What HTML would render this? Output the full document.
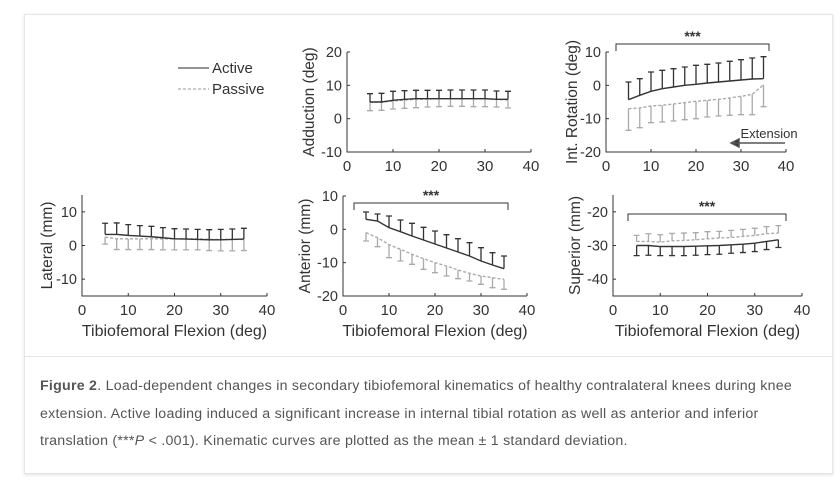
<!DOCTYPE html>
<html><head><meta charset="utf-8">
<style>
body{margin:0;width:840px;height:480px;background:#fff;overflow:hidden;font-family:"Liberation Sans",sans-serif}
#card{position:absolute;left:24px;top:14px;width:807px;height:458px;border:1px solid #e6e6e6;box-shadow:0 1px 3px rgba(0,0,0,0.12);background:#fff}
#divider{position:absolute;left:24px;top:356px;width:808px;height:1px;background:#e6e6e6}
#caption{position:absolute;left:40px;top:373px;width:790px;font-size:14.2px;line-height:27.5px;color:#555;letter-spacing:0.25px;white-space:nowrap}
svg{position:absolute;left:0;top:0}
</style></head><body>
<div id="card"></div>
<div id="divider"></div>
<svg id="chart" width="840" height="356"></svg>
<div id="caption"><b>Figure 2</b>. Load-dependent changes in secondary tibiofemoral kinematics of healthy contralateral knees during knee<br>extension. Active loading induced a significant increase in internal tibial rotation as well as anterior and inferior<br>translation (***<i>P</i> &lt; .001). Kinematic curves are plotted as the mean ± 1 standard deviation.</div>
<script>
const flexion=[5,7.5,10,12.5,15,17.5,20,22.5,25,27.5,30,32.5,35];
const xTicks=[0,10,20,30,40];
const addActive=[5,5,5.5,5.8,6,6,6,6,6,6,6,5.8,5.8];
const addActiveSD=[2.5,2.6,2.7,2.6,2.5,2.5,2.5,2.6,2.6,2.6,2.6,2.5,2.4];
const addPassive=[5,5,5.3,5.6,5.8,5.9,6,6,6,6,6,5.8,5.6];
const addPassiveSD=[2.6,2.5,2.4,2.5,2.5,2.4,2.4,2.3,2.3,2.4,2.4,2.3,2.4];
const rotActive=[-4.3,-3,-1.8,-1,-0.5,0,0.3,0.7,1,1.3,1.6,1.9,2];
const rotActiveSD=[5.3,5,5.8,5.5,5.5,5.5,5.7,5.6,5.7,5.9,6.1,6.3,6.6];
const rotPassive=[-7,-6.8,-6.2,-6,-5.6,-5.2,-4.8,-4.5,-4.2,-3.8,-3.3,-2.7,0.2];
const rotPassiveSD=[6.5,5.9,5,5,5.1,5.1,5.2,5,5,5.2,5.5,6.1,6.6];
const latActive=[3.3,3.3,3,2.8,2.6,2.3,2,1.9,1.8,1.7,1.7,1.8,1.9];
const latActiveSD=[3.3,3.4,3.2,3.1,3.1,3,3,3,3,3,3.1,3.1,3.2];
const latPassive=[2.5,2,2,2,2,2,2,2,2,1.8,1.8,1.8,1.8];
const latPassiveSD=[2.1,3.2,3.2,3.2,3.2,3.3,3.3,3.3,3.3,3.3,3.4,3.4,3.3];
const antActive=[3,2.5,0.5,-0.7,-2,-3.2,-4.4,-5.6,-6.8,-8,-9.5,-10.7,-11.8];
const antActiveSD=[2.2,2.1,3.5,3.5,3.8,3.8,3.9,4,4,4,4,3.7,3.8];
const antPassive=[-1,-2.5,-4.6,-6,-7.5,-8.8,-10,-11,-12.2,-13.2,-14,-14.5,-15];
const antPassiveSD=[2.5,2.7,3.9,3.5,3,3.2,3,3,2.6,2.3,2.5,3,3];
const supActive=[-30,-30,-30.3,-30.3,-30.3,-30.2,-30.1,-30,-29.8,-29.6,-29.3,-28.8,-28.3];
const supActiveSD=[3,2.9,2.7,2.7,2.7,2.7,2.6,2.6,2.5,2.5,2.5,2.4,2.3];
const supPassive=[-28.8,-28.8,-29,-28.6,-28.5,-28.3,-28,-27.8,-27.6,-27.3,-27,-26.5,-26.3];
const supPassiveSD=[1.8,2.3,2.2,2.2,2.2,2.1,2.1,2,2.1,2.1,2.1,2.1,2.2];

const NS='http://www.w3.org/2000/svg';
const svg=document.getElementById('chart');
function mk(tag,attrs,parent,text){const e=document.createElementNS(NS,tag);for(const k in attrs)e.setAttribute(k,attrs[k]);if(text!==undefined)e.textContent=text;(parent||svg).appendChild(e);return e;}

function panel(p){
  const g=mk('g',{});
  
  
  const sx=v=>p.x0+(v-0)/40*(p.x1-p.x0);
  const sy=v=>p.y1-(v-p.ymin)/(p.ymax-p.ymin)*(p.y1-p.y0);
  const ax=mk('path',{d:`M${p.x0} ${p.y0}V${p.y1}H${p.x1}`,stroke:'#333',fill:'none','stroke-width':1},g);
  
  
  xTicks.forEach(t=>{mk('line',{x1:sx(t),x2:sx(t),y1:p.y1,y2:p.y1-3,stroke:'#333'},g);
    const tl=mk('text',{x:sx(t),y:p.y1+19,'text-anchor':'middle','font-size':15,fill:'#333'},g,t);
    
    });
  p.yTicks.forEach(t=>{mk('line',{x1:p.x0,x2:p.x0+3,y1:sy(t),y2:sy(t),stroke:'#333'},g);
    const tl=mk('text',{x:p.x0-5,y:sy(t)+5,'text-anchor':'end','font-size':14.5,fill:'#333'},g,t);
    
    });
  const yt=mk('text',{transform:`translate(${p.ytx},${(p.y0+p.y1)/2}) rotate(-90)`,'text-anchor':'middle','font-size':15.5,fill:'#333'},g,p.ytitle);
  
  
  if(p.xtitle){const xt=mk('text',{x:(p.x0+p.x1)/2,y:p.y1+40,'text-anchor':'middle','font-size':16,fill:'#333'},g,'Tibiofemoral Flexion (deg)');
    
    }
  [[p.pas,p.pasSD,'#aaa',p.pasDir,'passive'],[p.act,p.actSD,'#333',p.actDir,'active']].forEach(([m,sd,col,dir,lab])=>{
    flexion.forEach((f,i)=>{const x=sx(f),y1=sy(m[i]),y2=sy(m[i]+dir*sd[i]);
      const eb=mk('path',{d:`M${x} ${y1}V${y2}M${x-3} ${y2}H${x+3}`,stroke:col,'stroke-width':1.3,fill:'none'},g);
      
      });
    const ln=mk('polyline',{points:flexion.map((f,i)=>sx(f)+','+sy(m[i])).join(' '),stroke:col,'stroke-width':1.4,fill:'none','stroke-dasharray':lab==='passive'?'3 2':'none'},g);
    
    
  });
  if(p.br){const b=mk('path',{d:`M${p.br[0]} ${p.br[2]+7}V${p.br[2]}H${p.br[1]}V${p.br[2]+7}`,stroke:'#333',fill:'none'},g);
    
    
    const s=mk('text',{x:(p.br[0]+p.br[1])/2,y:p.br[2]-3,'text-anchor':'middle','font-size':14,'font-weight':'bold',fill:'#333'},g,'***');
    
    }
}
panel({name:'adduction',x0:347,x1:531,y0:52,y1:152,ymin:-10,ymax:20,yTicks:[-10,0,10,20],ytitle:'Adduction (deg)',ytx:314,act:addActive,actSD:addActiveSD,actDir:1,pas:addPassive,pasSD:addPassiveSD,pasDir:-1});
panel({name:'int-rotation',x0:606,x1:786,y0:52,y1:152,ymin:-20,ymax:10,yTicks:[-20,-10,0,10],ytitle:'Int. Rotation (deg)',ytx:577,act:rotActive,actSD:rotActiveSD,actDir:1,pas:rotPassive,pasSD:rotPassiveSD,pasDir:-1,br:[616,769,44]});
panel({name:'lateral',x0:82,x1:267,y0:195,y1:296,ymin:-15,ymax:15,yTicks:[-10,0,10],ytitle:'Lateral (mm)',ytx:52,xtitle:true,act:latActive,actSD:latActiveSD,actDir:1,pas:latPassive,pasSD:latPassiveSD,pasDir:-1});
panel({name:'anterior',x0:343,x1:527,y0:196,y1:296,ymin:-20,ymax:10,yTicks:[-20,-10,0,10],ytitle:'Anterior (mm)',ytx:310,xtitle:true,act:antActive,actSD:antActiveSD,actDir:1,pas:antPassive,pasSD:antPassiveSD,pasDir:-1,br:[354,508,203]});
panel({name:'superior',x0:613,x1:802,y0:195,y1:296,ymin:-45,ymax:-15,yTicks:[-40,-30,-20],ytitle:'Superior (mm)',ytx:580,xtitle:true,act:supActive,actSD:supActiveSD,actDir:-1,pas:supPassive,pasSD:supPassiveSD,pasDir:1,br:[628,786,214]});
const ext=mk('text',{x:769,y:138,'text-anchor':'middle','font-size':13,fill:'#333'},svg,'Extension');


const ar=mk('path',{d:'M785 143H733M731 143l8-4v8z',stroke:'#555','stroke-width':1.5,fill:'#333'});


const lg=mk('g',{});


const la=mk('line',{x1:178,x2:209,y1:68,y2:68,stroke:'#555','stroke-width':1.3},lg);


const ta=mk('text',{x:212,y:73,'font-size':15,fill:'#333'},lg,'Active');


const lp=mk('line',{x1:178,x2:209,y1:89,y2:89,stroke:'#999','stroke-width':1,'stroke-dasharray':'3 2'},lg);


const tp=mk('text',{x:212,y:94,'font-size':15,fill:'#333'},lg,'Passive');


</script>
</body></html>
